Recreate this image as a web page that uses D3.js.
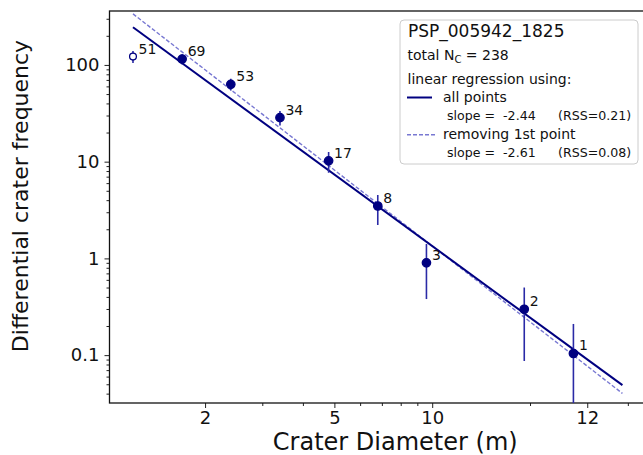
<!DOCTYPE html>
<html>
<head>
<meta charset="utf-8">
<script src="https://cdn.jsdelivr.net/npm/d3@7"></script>
<style>
body { margin: 0; background: #fff; }
svg { display: block; font-family: "DejaVu Sans", sans-serif; }
text { white-space: pre; }
</style>
</head>
<body>
<svg id="chart" width="643" height="455"></svg>
<script>
// crater bins (log bins, factor sqrt 2)
var diam = [1.2, 1.7, 2.4, 3.4, 4.8, 6.8, 9.6, 19.2, 27.2],
    freq = [122, 115, 63, 28.5, 10.2, 3.48, 0.90, 0.298, 0.104],
    err_hi = [139, 129, 72, 33.4, 12.6, 4.53, 1.41, 0.50, 0.21],
    err_lo = [105, 101, 54.5, 23.6, 7.7, 2.21, 0.38, 0.087, 0.001],
    counts = [51, 69, 53, 34, 17, 8, 3, 2, 1],
    used_in_fit2 = [false, true, true, true, true, true, true, true, true];

// regression lines (end points)
var fit_x = [1.2, 38.5],
    fit_all_y = [245, 0.049],
    fit_drop_y = [337, 0.0402];

var x_ticks = [2, 5, 10, 30],
    x_tick_labels = ["2", "5", "10", "12"],
    x_minor = [3, 4, 6, 7, 8, 9, 20, 40, 50],
    y_ticks = [0.1, 1, 10, 100],
    y_tick_labels = ["0.1", "1", "10", "100"];

var legend_title = "PSP_005942_1825",
    legend_total = 238,
    legend_rows = [
        {name: "all points", slope: "-2.44", rss: "0.21", dash: null},
        {name: "removing 1st point", slope: "-2.61", rss: "0.08", dash: "4,2"}
    ];

var navy = "#000080",
    err_color = "#2a2aa6",
    dash_color = "#7878d2";

var p_left = 109.5, p_right = 681, p_top = 11, p_bottom = 403;

var svg = d3.select("#chart");

var x = d3.scaleLog().domain([1.016, 58.3]).range([p_left, p_right]);
var y = d3.scaleLog().domain([0.032, 361]).range([p_bottom, p_top]);

svg.append("clipPath").attr("id", "plotclip")
    .append("rect").attr("x", p_left).attr("y", p_top)
    .attr("width", p_right - p_left).attr("height", p_bottom - p_top);

//y minor ticks
var y_minor = [];
[0.01, 0.1, 1, 10, 100].forEach(function (d) {
    for (var k = 2; k <= 9; k++) {
        var v = d * k;
        if (v > y.domain()[0] && v < y.domain()[1]) y_minor.push(v);
    }
});

// axes
var xAxis = d3.axisBottom(x).tickValues(x_ticks).tickSize(5).tickPadding(3)
    .tickFormat(function (d, i) { return x_tick_labels[i]; });
var gx = svg.append("g").attr("transform", "translate(0," + p_bottom + ")").call(xAxis);
gx.selectAll("text").attr("font-size", "18px").attr("fill", "#111")
    .attr("font-family", "DejaVu Sans");
svg.append("g").attr("transform", "translate(0," + p_bottom + ")")
    .call(d3.axisBottom(x).tickValues(x_minor).tickSize(3).tickFormat(""));

var yAxis = d3.axisLeft(y).tickValues(y_ticks).tickSize(5).tickPadding(5)
    .tickFormat(function (d, i) { return y_tick_labels[i]; });
var gy = svg.append("g").attr("transform", "translate(" + p_left + ",0)").call(yAxis);
gy.selectAll("text").attr("font-size", "18px").attr("fill", "#111")
    .attr("font-family", "DejaVu Sans");
svg.append("g").attr("transform", "translate(" + p_left + ",0)")
    .call(d3.axisLeft(y).tickValues(y_minor).tickSize(3).tickFormat(""));

svg.selectAll(".tick line").attr("stroke", "#222").attr("stroke-width", 1);
svg.selectAll(".domain").remove();

// frame
svg.append("rect").attr("x", p_left).attr("y", p_top)
    .attr("width", p_right - p_left).attr("height", p_bottom - p_top)
    .attr("fill", "none").attr("stroke", "#111").attr("stroke-width", 1.3);

var plot = svg.append("g").attr("clip-path", "url(#plotclip)");

var line = d3.line().x(function (d) { return x(d[0]); }).y(function (d) { return y(d[1]); });

plot.append("path").datum(d3.zip(fit_x, fit_drop_y)).attr("d", line)
    .attr("fill", "none").attr("stroke", dash_color).attr("stroke-width", 1.4)
    .attr("stroke-dasharray", "4,2");
plot.append("path").datum(d3.zip(fit_x, fit_all_y)).attr("d", line)
    .attr("fill", "none").attr("stroke", navy).attr("stroke-width", 2);

// error bars
plot.selectAll(".err").data(diam).enter().append("line")
    .attr("class", "err")
    .attr("x1", function (d) { return x(d); })
    .attr("x2", function (d) { return x(d); })
    .attr("y1", function (d, i) { return y(err_hi[i]); })
    .attr("y2", function (d, i) { return y(err_lo[i]); })
    .attr("stroke", err_color).attr("stroke-width", 1.6);

// points
plot.selectAll(".pt").data(diam).enter().append("circle")
    .attr("class", "pt")
    .attr("cx", function (d) { return x(d); })
    .attr("cy", function (d, i) { return y(freq[i]); })
    .attr("r", function (d, i) { return used_in_fit2[i] ? 4.2 : 3.4; })
    .attr("fill", function (d, i) { return used_in_fit2[i] ? navy : "#fff"; })
    .attr("stroke", navy).attr("stroke-width", 1.3);

// count labels
svg.selectAll(".cnt").data(diam).enter().append("text")
    .attr("class", "cnt")
    .attr("x", function (d) { return x(d) + 5.5; })
    .attr("y", function (d, i) { return y(freq[i]) - 3; })
    .attr("font-size", "14px").attr("fill", "#111")
    .text(function (d, i) { return counts[i]; });

// axis titles
svg.append("text").attr("x", (p_left + p_right) / 2).attr("y", 450)
    .attr("text-anchor", "middle").attr("font-size", "24px").attr("fill", "#111")
    .text("Crater Diameter (m)");
svg.append("text").attr("transform", "translate(28,196) rotate(-90)")
    .attr("text-anchor", "middle").attr("font-size", "22px").attr("fill", "#111")
    .text("Differential crater frequency");

// legend
var lg = svg.append("g");
lg.append("rect").attr("x", 400).attr("y", 20).attr("width", 238).attr("height", 144)
    .attr("rx", 4).attr("fill", "#fff").attr("fill-opacity", 0.85)
    .attr("stroke", "#cccccc").attr("stroke-width", 1);
lg.append("text").attr("x", 408).attr("y", 37).attr("font-size", "17px").attr("fill", "#111")
    .text(legend_title);
var tot = lg.append("text").attr("x", 407.5).attr("y", 59.5).attr("font-size", "14px").attr("fill", "#111");
tot.append("tspan").text("total N");
tot.append("tspan").attr("font-size", "10px").attr("dy", 3).text("C");
tot.append("tspan").attr("dy", -3).text(" = " + legend_total);
lg.append("text").attr("x", 407.5).attr("y", 84).attr("font-size", "14px").attr("fill", "#111")
    .text("linear regression using:");

legend_rows.forEach(function (r, i) {
    var yy = 97.5 + i * 37.3;
    lg.append("line").attr("x1", 407).attr("x2", r.dash ? 435 : 432)
        .attr("y1", yy).attr("y2", yy)
        .attr("stroke", r.dash ? dash_color : navy)
        .attr("stroke-width", r.dash ? 1.4 : 2)
        .attr("stroke-dasharray", r.dash);
    lg.append("text").attr("x", 443).attr("y", yy + 4.5).attr("font-size", "14px").attr("fill", "#111")
        .text(r.name);
    lg.append("text").attr("x", 447).attr("y", yy + 22.5).attr("font-size", "12.6px").attr("fill", "#111")
        .text("slope =  " + r.slope);
    lg.append("text").attr("x", 558).attr("y", yy + 22.5).attr("font-size", "12.6px").attr("fill", "#111")
        .text("(RSS=" + r.rss + ")");
});
</script>
</body>
</html>
